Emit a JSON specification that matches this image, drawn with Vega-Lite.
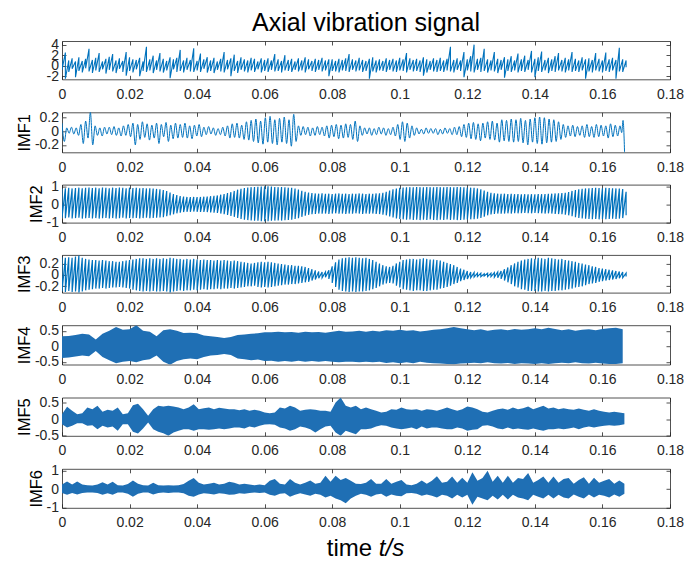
{
"$schema":"https://vega.github.io/schema/vega-lite/v6.json",
"background":"white",
"padding":{"left":16,"top":10,"right":20,"bottom":4},
"config":{
"font":"Liberation Sans",
"locale":{"number":{"decimal":".","thousands":",","grouping":[3],"currency":["$",""],"minus":"-"}},
"view":{"stroke":null},
"axis":{"domainColor":"#262626","domainWidth":0.8,"tickColor":"#262626","tickWidth":0.8,"tickSize":-4,"labelColor":"#262626","labelFont":"Liberation Sans","labelFontSize":14,"labelOverlap":false,"labelFlush":false,"labelBound":false,"grid":false,"titleFont":"Liberation Sans","titleFontWeight":"normal","titleColor":"#000","titleFontSize":16.5,"titlePadding":2}
},
"datasets":{
"s0":[{"t":0,"h":1.2,"l":-0.8},{"t":0.001,"h":2.5,"l":-2.5},{"t":0.002,"h":1,"l":-1.2},{"t":0.003,"h":1.4,"l":-0.6},{"t":0.004,"h":0.8,"l":-2.2},{"t":0.005,"h":1.6,"l":-1},{"t":0.006,"h":0.9,"l":-1.3},{"t":0.007,"h":1.3,"l":-0.5},{"t":0.008,"h":3.2,"l":-1.1},{"t":0.009,"h":1.1,"l":-1.4},{"t":0.01,"h":1.5,"l":-0.9},{"t":0.011,"h":2.4,"l":-1.2},{"t":0.012,"h":0.8,"l":-0.7},{"t":0.013,"h":1.3,"l":-1.5},{"t":0.014,"h":1.7,"l":-0.8},{"t":0.015,"h":2.2,"l":-1.1},{"t":0.016,"h":1,"l":-1.4},{"t":0.017,"h":1.4,"l":-0.6},{"t":0.018,"h":0.9,"l":-1.2},{"t":0.019,"h":2.6,"l":-1.9},{"t":0.02,"h":1.6,"l":-1},{"t":0.021,"h":1.2,"l":-1.3},{"t":0.022,"h":1.1,"l":-0.7},{"t":0.023,"h":1.5,"l":-2},{"t":0.024,"h":0.8,"l":-1},{"t":0.025,"h":3.6,"l":-1.2},{"t":0.026,"h":1.2,"l":-0.9},{"t":0.027,"h":1.9,"l":-1.4},{"t":0.028,"h":1,"l":-0.8},{"t":0.029,"h":2.4,"l":-1.1},{"t":0.03,"h":1.3,"l":-1.3},{"t":0.031,"h":0.9,"l":-0.9},{"t":0.032,"h":1.6,"l":-2.4},{"t":0.033,"h":1.2,"l":-0.7},{"t":0.034,"h":1.5,"l":-1.2},{"t":0.035,"h":3,"l":-1},{"t":0.036,"h":1,"l":-1.3},{"t":0.037,"h":1.5,"l":-0.8},{"t":0.038,"h":1.1,"l":-1.1},{"t":0.039,"h":3.3,"l":-1.2},{"t":0.04,"h":0.9,"l":-0.9},{"t":0.041,"h":2.3,"l":-1.2},{"t":0.042,"h":1.2,"l":-0.6},{"t":0.043,"h":1.6,"l":-1.3},{"t":0.044,"h":1,"l":-1},{"t":0.045,"h":1.5,"l":-1.4},{"t":0.046,"h":0.8,"l":-0.8},{"t":0.047,"h":1.3,"l":-1.1},{"t":0.048,"h":2.6,"l":-1.3},{"t":0.049,"h":1.1,"l":-0.7},{"t":0.05,"h":1.4,"l":-2},{"t":0.051,"h":2.1,"l":-1},{"t":0.052,"h":0.9,"l":-1.4},{"t":0.053,"h":1.6,"l":-0.8},{"t":0.054,"h":1.2,"l":-1.1},{"t":0.055,"h":1,"l":-1.3},{"t":0.056,"h":1.5,"l":-0.9},{"t":0.057,"h":1.3,"l":-1.2},{"t":0.058,"h":0.8,"l":-0.7},{"t":0.059,"h":1.4,"l":-1.3},{"t":0.06,"h":1.1,"l":-1},{"t":0.061,"h":1.4,"l":-1.2},{"t":0.062,"h":1,"l":-0.8},{"t":0.063,"h":2.2,"l":-1.1},{"t":0.064,"h":1.2,"l":-1},{"t":0.065,"h":0.9,"l":-1.3},{"t":0.066,"h":2,"l":-0.9},{"t":0.067,"h":1.1,"l":-1},{"t":0.068,"h":1.3,"l":-1.2},{"t":0.069,"h":0.8,"l":-0.8},{"t":0.07,"h":1.4,"l":-1.1},{"t":0.071,"h":1,"l":-0.9},{"t":0.072,"h":1.6,"l":-1.3},{"t":0.073,"h":1.2,"l":-0.7},{"t":0.074,"h":0.9,"l":-1},{"t":0.075,"h":1.3,"l":-1.2},{"t":0.076,"h":1.1,"l":-0.8},{"t":0.077,"h":1.5,"l":-1.1},{"t":0.078,"h":1,"l":-0.9},{"t":0.079,"h":1.2,"l":-2},{"t":0.08,"h":1.2,"l":-1},{"t":0.081,"h":0.9,"l":-1.1},{"t":0.082,"h":1.3,"l":-1.3},{"t":0.083,"h":1.1,"l":-0.9},{"t":0.084,"h":1.4,"l":-1},{"t":0.085,"h":2.2,"l":-1.2},{"t":0.086,"h":1.2,"l":-0.8},{"t":0.087,"h":1,"l":-1.1},{"t":0.088,"h":1.5,"l":-0.9},{"t":0.089,"h":1.1,"l":-1.2},{"t":0.09,"h":0.9,"l":-1},{"t":0.091,"h":1.3,"l":-2.5},{"t":0.092,"h":1.6,"l":-1.1},{"t":0.093,"h":1,"l":-1.3},{"t":0.094,"h":1.2,"l":-0.9},{"t":0.095,"h":0.9,"l":-1},{"t":0.096,"h":1.4,"l":-1.2},{"t":0.097,"h":1.1,"l":-0.8},{"t":0.098,"h":1.3,"l":-1.1},{"t":0.099,"h":1,"l":-1.2},{"t":0.1,"h":1.5,"l":-0.9},{"t":0.101,"h":1.2,"l":-1},{"t":0.102,"h":2.4,"l":-1.3},{"t":0.103,"h":1.4,"l":-0.8},{"t":0.104,"h":1.1,"l":-1.1},{"t":0.105,"h":1.3,"l":-1},{"t":0.106,"h":1,"l":-1.2},{"t":0.107,"h":1.6,"l":-1.9},{"t":0.108,"h":1.2,"l":-1.3},{"t":0.109,"h":0.9,"l":-0.8},{"t":0.11,"h":1.4,"l":-1.1},{"t":0.111,"h":1.1,"l":-1.2},{"t":0.112,"h":1.5,"l":-1},{"t":0.113,"h":1,"l":-1.2},{"t":0.114,"h":1.3,"l":-0.9},{"t":0.115,"h":3.6,"l":-1.1},{"t":0.116,"h":1.1,"l":-1.3},{"t":0.117,"h":1.4,"l":-0.8},{"t":0.118,"h":1,"l":-1},{"t":0.119,"h":2.6,"l":-2.2},{"t":0.12,"h":1.2,"l":-0.9},{"t":0.121,"h":1.8,"l":-1.1},{"t":0.122,"h":4,"l":-1.3},{"t":0.123,"h":1.3,"l":-0.8},{"t":0.124,"h":1.5,"l":-1.2},{"t":0.125,"h":3.2,"l":-1},{"t":0.126,"h":1.2,"l":-1.3},{"t":0.127,"h":1,"l":-0.9},{"t":0.128,"h":2.6,"l":-1.1},{"t":0.129,"h":1.3,"l":-1.4},{"t":0.13,"h":1.1,"l":-0.8},{"t":0.131,"h":1.6,"l":-2.3},{"t":0.132,"h":1.2,"l":-1},{"t":0.133,"h":1.8,"l":-1.2},{"t":0.134,"h":1,"l":-0.9},{"t":0.135,"h":2.3,"l":-1.3},{"t":0.136,"h":1.2,"l":-1},{"t":0.137,"h":1.9,"l":-1.2},{"t":0.138,"h":1.1,"l":-0.8},{"t":0.139,"h":2.8,"l":-1.3},{"t":0.14,"h":1.3,"l":-2.2},{"t":0.141,"h":1.6,"l":-1},{"t":0.142,"h":2.7,"l":-1.2},{"t":0.143,"h":1.1,"l":-0.9},{"t":0.144,"h":1.5,"l":-1.4},{"t":0.145,"h":1.2,"l":-1},{"t":0.146,"h":1.8,"l":-1.2},{"t":0.147,"h":2.4,"l":-0.9},{"t":0.148,"h":1.1,"l":-1.1},{"t":0.149,"h":1.5,"l":-1.3},{"t":0.15,"h":1.2,"l":-0.9},{"t":0.151,"h":2.6,"l":-1.2},{"t":0.152,"h":1.3,"l":-1},{"t":0.153,"h":1,"l":-1.2},{"t":0.154,"h":1.6,"l":-0.9},{"t":0.155,"h":1.2,"l":-2.5},{"t":0.156,"h":1.4,"l":-1.1},{"t":0.157,"h":1.1,"l":-1.3},{"t":0.158,"h":2.4,"l":-0.9},{"t":0.159,"h":1.3,"l":-1.1},{"t":0.16,"h":1,"l":-1.3},{"t":0.161,"h":2.5,"l":-1},{"t":0.162,"h":1.2,"l":-1.2},{"t":0.163,"h":1.5,"l":-0.9},{"t":0.164,"h":1.1,"l":-2.5},{"t":0.165,"h":3.4,"l":-1.1},{"t":0.166,"h":1.2,"l":-1.2},{"t":0.167,"h":1,"l":-0.3}],
"s1":[{"t":0,"v":0.12},{"t":0.0007,"v":-0.15},{"t":0.0014,"v":0.05},{"t":0.0021,"v":-0.03},{"t":0.0028,"v":0.06},{"t":0.0035,"v":-0.04},{"t":0.0042,"v":0.05},{"t":0.0049,"v":-0.06},{"t":0.0056,"v":0.1},{"t":0.0063,"v":-0.18},{"t":0.007,"v":0.15},{"t":0.0077,"v":-0.1},{"t":0.0084,"v":0.28},{"t":0.0091,"v":-0.2},{"t":0.0098,"v":0.08},{"t":0.0105,"v":-0.06},{"t":0.0112,"v":0.05},{"t":0.0119,"v":-0.07},{"t":0.0126,"v":0.06},{"t":0.0133,"v":-0.04},{"t":0.014,"v":0.06},{"t":0.0147,"v":-0.05},{"t":0.0154,"v":0.07},{"t":0.0161,"v":-0.06},{"t":0.0168,"v":0.05},{"t":0.0175,"v":-0.07},{"t":0.0182,"v":0.08},{"t":0.0189,"v":-0.06},{"t":0.0196,"v":0.1},{"t":0.0203,"v":-0.08},{"t":0.021,"v":0.12},{"t":0.0217,"v":-0.2},{"t":0.0224,"v":0.1},{"t":0.0231,"v":-0.12},{"t":0.0238,"v":0.14},{"t":0.0245,"v":-0.09},{"t":0.0252,"v":0.11},{"t":0.0259,"v":-0.13},{"t":0.0266,"v":0.09},{"t":0.0273,"v":-0.1},{"t":0.028,"v":0.12},{"t":0.0287,"v":-0.18},{"t":0.0294,"v":0.1},{"t":0.0301,"v":-0.08},{"t":0.0308,"v":0.13},{"t":0.0315,"v":-0.15},{"t":0.0322,"v":0.09},{"t":0.0329,"v":-0.11},{"t":0.0336,"v":0.12},{"t":0.0343,"v":-0.1},{"t":0.035,"v":0.1},{"t":0.0357,"v":-0.09},{"t":0.0364,"v":0.12},{"t":0.0371,"v":-0.1},{"t":0.0378,"v":0.08},{"t":0.0385,"v":-0.11},{"t":0.0392,"v":0.09},{"t":0.0399,"v":-0.07},{"t":0.0406,"v":0.1},{"t":0.0413,"v":-0.08},{"t":0.042,"v":0.06},{"t":0.0427,"v":-0.05},{"t":0.0434,"v":0.07},{"t":0.0441,"v":-0.04},{"t":0.0448,"v":0.05},{"t":0.0455,"v":-0.06},{"t":0.0462,"v":0.04},{"t":0.0469,"v":-0.05},{"t":0.0476,"v":0.06},{"t":0.0483,"v":-0.07},{"t":0.049,"v":0.08},{"t":0.0497,"v":-0.1},{"t":0.0504,"v":0.11},{"t":0.0511,"v":-0.09},{"t":0.0518,"v":0.12},{"t":0.0525,"v":-0.1},{"t":0.0532,"v":0.09},{"t":0.0539,"v":-0.12},{"t":0.0546,"v":0.14},{"t":0.0553,"v":-0.13},{"t":0.056,"v":0.16},{"t":0.0567,"v":-0.15},{"t":0.0574,"v":0.18},{"t":0.0581,"v":-0.17},{"t":0.0588,"v":0.15},{"t":0.0595,"v":-0.19},{"t":0.0602,"v":0.2},{"t":0.0609,"v":-0.16},{"t":0.0616,"v":0.22},{"t":0.0623,"v":-0.18},{"t":0.063,"v":0.17},{"t":0.0637,"v":-0.2},{"t":0.0644,"v":0.19},{"t":0.0651,"v":-0.16},{"t":0.0658,"v":0.21},{"t":0.0665,"v":-0.18},{"t":0.0672,"v":0.17},{"t":0.0679,"v":-0.22},{"t":0.0686,"v":0.25},{"t":0.0693,"v":-0.15},{"t":0.07,"v":0.08},{"t":0.0707,"v":-0.06},{"t":0.0714,"v":0.07},{"t":0.0721,"v":-0.05},{"t":0.0728,"v":0.06},{"t":0.0735,"v":-0.07},{"t":0.0742,"v":0.05},{"t":0.0749,"v":-0.06},{"t":0.0756,"v":0.07},{"t":0.0763,"v":-0.05},{"t":0.077,"v":0.06},{"t":0.0777,"v":-0.07},{"t":0.0784,"v":0.08},{"t":0.0791,"v":-0.1},{"t":0.0798,"v":0.09},{"t":0.0805,"v":-0.08},{"t":0.0812,"v":0.1},{"t":0.0819,"v":-0.11},{"t":0.0826,"v":0.09},{"t":0.0833,"v":-0.1},{"t":0.084,"v":0.11},{"t":0.0847,"v":-0.09},{"t":0.0854,"v":0.1},{"t":0.0861,"v":-0.12},{"t":0.0868,"v":0.15},{"t":0.0875,"v":-0.15},{"t":0.0882,"v":0.08},{"t":0.0889,"v":-0.06},{"t":0.0896,"v":0.05},{"t":0.0903,"v":-0.04},{"t":0.091,"v":0.05},{"t":0.0917,"v":-0.06},{"t":0.0924,"v":0.04},{"t":0.0931,"v":-0.05},{"t":0.0938,"v":0.06},{"t":0.0945,"v":-0.04},{"t":0.0952,"v":0.05},{"t":0.0959,"v":-0.06},{"t":0.0966,"v":0.04},{"t":0.0973,"v":-0.05},{"t":0.098,"v":0.06},{"t":0.0987,"v":-0.07},{"t":0.0994,"v":0.1},{"t":0.1001,"v":-0.12},{"t":0.1008,"v":0.14},{"t":0.1015,"v":-0.15},{"t":0.1022,"v":0.12},{"t":0.1029,"v":-0.1},{"t":0.1036,"v":0.08},{"t":0.1043,"v":-0.06},{"t":0.105,"v":0.05},{"t":0.1057,"v":-0.04},{"t":0.1064,"v":0.03},{"t":0.1071,"v":-0.04},{"t":0.1078,"v":0.05},{"t":0.1085,"v":-0.03},{"t":0.1092,"v":0.04},{"t":0.1099,"v":-0.03},{"t":0.1106,"v":0.04},{"t":0.1113,"v":-0.05},{"t":0.112,"v":0.03},{"t":0.1127,"v":-0.04},{"t":0.1134,"v":0.05},{"t":0.1141,"v":-0.03},{"t":0.1148,"v":0.04},{"t":0.1155,"v":-0.05},{"t":0.1162,"v":0.06},{"t":0.1169,"v":-0.05},{"t":0.1176,"v":0.07},{"t":0.1183,"v":-0.08},{"t":0.119,"v":0.1},{"t":0.1197,"v":-0.09},{"t":0.1204,"v":0.12},{"t":0.1211,"v":-0.11},{"t":0.1218,"v":0.13},{"t":0.1225,"v":-0.12},{"t":0.1232,"v":0.11},{"t":0.1239,"v":-0.14},{"t":0.1246,"v":0.12},{"t":0.1253,"v":-0.1},{"t":0.126,"v":0.14},{"t":0.1267,"v":-0.12},{"t":0.1274,"v":0.15},{"t":0.1281,"v":-0.13},{"t":0.1288,"v":0.12},{"t":0.1295,"v":-0.16},{"t":0.1302,"v":0.17},{"t":0.1309,"v":-0.14},{"t":0.1316,"v":0.16},{"t":0.1323,"v":-0.15},{"t":0.133,"v":0.18},{"t":0.1337,"v":-0.16},{"t":0.1344,"v":0.17},{"t":0.1351,"v":-0.15},{"t":0.1358,"v":0.19},{"t":0.1365,"v":-0.17},{"t":0.1372,"v":0.16},{"t":0.1379,"v":-0.2},{"t":0.1386,"v":0.18},{"t":0.1393,"v":-0.16},{"t":0.14,"v":0.2},{"t":0.1407,"v":-0.18},{"t":0.1414,"v":0.21},{"t":0.1421,"v":-0.19},{"t":0.1428,"v":0.2},{"t":0.1435,"v":-0.17},{"t":0.1442,"v":0.18},{"t":0.1449,"v":-0.16},{"t":0.1456,"v":0.17},{"t":0.1463,"v":-0.15},{"t":0.147,"v":0.14},{"t":0.1477,"v":-0.12},{"t":0.1484,"v":0.1},{"t":0.1491,"v":-0.09},{"t":0.1498,"v":0.08},{"t":0.1505,"v":-0.07},{"t":0.1512,"v":0.09},{"t":0.1519,"v":-0.08},{"t":0.1526,"v":0.07},{"t":0.1533,"v":-0.06},{"t":0.154,"v":0.08},{"t":0.1547,"v":-0.09},{"t":0.1554,"v":0.1},{"t":0.1561,"v":-0.08},{"t":0.1568,"v":0.07},{"t":0.1575,"v":-0.09},{"t":0.1582,"v":0.1},{"t":0.1589,"v":-0.08},{"t":0.1596,"v":0.09},{"t":0.1603,"v":-0.07},{"t":0.161,"v":0.08},{"t":0.1617,"v":-0.1},{"t":0.1624,"v":0.11},{"t":0.1631,"v":-0.08},{"t":0.1638,"v":0.09},{"t":0.1645,"v":-0.07},{"t":0.1652,"v":0.08},{"t":0.1657,"v":-0.02},{"t":0.1661,"v":0.16},{"t":0.1666,"v":-0.4}],
"s2":[{"t":0,"h":0.88,"l":-0.74},{"t":0.001,"h":0.9,"l":-0.76},{"t":0.002,"h":0.92,"l":-0.72},{"t":0.003,"h":0.89,"l":-0.77},{"t":0.004,"h":0.91,"l":-0.75},{"t":0.005,"h":0.93,"l":-0.73},{"t":0.006,"h":0.9,"l":-0.78},{"t":0.007,"h":0.92,"l":-0.76},{"t":0.008,"h":0.94,"l":-0.74},{"t":0.009,"h":0.91,"l":-0.77},{"t":0.01,"h":0.93,"l":-0.75},{"t":0.011,"h":0.9,"l":-0.78},{"t":0.012,"h":0.94,"l":-0.76},{"t":0.013,"h":0.92,"l":-0.74},{"t":0.014,"h":0.9,"l":-0.77},{"t":0.015,"h":0.93,"l":-0.75},{"t":0.016,"h":0.91,"l":-0.78},{"t":0.017,"h":0.94,"l":-0.76},{"t":0.018,"h":0.92,"l":-0.73},{"t":0.019,"h":0.9,"l":-0.77},{"t":0.02,"h":0.93,"l":-0.75},{"t":0.021,"h":0.91,"l":-0.76},{"t":0.022,"h":0.92,"l":-0.74},{"t":0.023,"h":0.9,"l":-0.77},{"t":0.024,"h":0.91,"l":-0.75},{"t":0.025,"h":0.89,"l":-0.73},{"t":0.026,"h":0.9,"l":-0.76},{"t":0.027,"h":0.88,"l":-0.74},{"t":0.028,"h":0.86,"l":-0.73},{"t":0.029,"h":0.84,"l":-0.72},{"t":0.03,"h":0.8,"l":-0.7},{"t":0.031,"h":0.74,"l":-0.65},{"t":0.032,"h":0.66,"l":-0.6},{"t":0.033,"h":0.58,"l":-0.54},{"t":0.034,"h":0.52,"l":-0.49},{"t":0.035,"h":0.47,"l":-0.45},{"t":0.036,"h":0.44,"l":-0.42},{"t":0.037,"h":0.42,"l":-0.4},{"t":0.038,"h":0.41,"l":-0.4},{"t":0.039,"h":0.42,"l":-0.39},{"t":0.04,"h":0.41,"l":-0.4},{"t":0.041,"h":0.42,"l":-0.41},{"t":0.042,"h":0.43,"l":-0.41},{"t":0.043,"h":0.44,"l":-0.42},{"t":0.044,"h":0.46,"l":-0.44},{"t":0.045,"h":0.48,"l":-0.45},{"t":0.046,"h":0.5,"l":-0.47},{"t":0.047,"h":0.54,"l":-0.5},{"t":0.048,"h":0.58,"l":-0.54},{"t":0.049,"h":0.63,"l":-0.58},{"t":0.05,"h":0.68,"l":-0.63},{"t":0.051,"h":0.75,"l":-0.68},{"t":0.052,"h":0.82,"l":-0.74},{"t":0.053,"h":0.87,"l":-0.8},{"t":0.054,"h":0.91,"l":-0.84},{"t":0.055,"h":0.94,"l":-0.86},{"t":0.056,"h":0.96,"l":-0.88},{"t":0.057,"h":0.97,"l":-0.9},{"t":0.058,"h":0.98,"l":-0.9},{"t":0.059,"h":0.99,"l":-0.92},{"t":0.06,"h":1,"l":-0.93},{"t":0.061,"h":1.01,"l":-0.92},{"t":0.062,"h":0.99,"l":-0.9},{"t":0.063,"h":0.97,"l":-0.89},{"t":0.064,"h":0.96,"l":-0.88},{"t":0.065,"h":0.97,"l":-0.89},{"t":0.066,"h":0.95,"l":-0.87},{"t":0.067,"h":0.93,"l":-0.85},{"t":0.068,"h":0.92,"l":-0.84},{"t":0.069,"h":0.88,"l":-0.8},{"t":0.07,"h":0.83,"l":-0.76},{"t":0.071,"h":0.76,"l":-0.68},{"t":0.072,"h":0.7,"l":-0.62},{"t":0.073,"h":0.66,"l":-0.57},{"t":0.074,"h":0.63,"l":-0.54},{"t":0.075,"h":0.61,"l":-0.52},{"t":0.076,"h":0.6,"l":-0.5},{"t":0.077,"h":0.62,"l":-0.51},{"t":0.078,"h":0.59,"l":-0.5},{"t":0.079,"h":0.6,"l":-0.52},{"t":0.08,"h":0.58,"l":-0.5},{"t":0.081,"h":0.6,"l":-0.49},{"t":0.082,"h":0.61,"l":-0.51},{"t":0.083,"h":0.59,"l":-0.5},{"t":0.084,"h":0.6,"l":-0.52},{"t":0.085,"h":0.58,"l":-0.5},{"t":0.086,"h":0.6,"l":-0.51},{"t":0.087,"h":0.59,"l":-0.49},{"t":0.088,"h":0.61,"l":-0.5},{"t":0.089,"h":0.6,"l":-0.52},{"t":0.09,"h":0.58,"l":-0.5},{"t":0.091,"h":0.6,"l":-0.51},{"t":0.092,"h":0.59,"l":-0.5},{"t":0.093,"h":0.61,"l":-0.52},{"t":0.094,"h":0.62,"l":-0.53},{"t":0.095,"h":0.65,"l":-0.56},{"t":0.096,"h":0.7,"l":-0.6},{"t":0.097,"h":0.77,"l":-0.66},{"t":0.098,"h":0.84,"l":-0.72},{"t":0.099,"h":0.88,"l":-0.77},{"t":0.1,"h":0.92,"l":-0.8},{"t":0.101,"h":0.94,"l":-0.82},{"t":0.102,"h":0.95,"l":-0.84},{"t":0.103,"h":0.96,"l":-0.83},{"t":0.104,"h":0.95,"l":-0.85},{"t":0.105,"h":0.97,"l":-0.84},{"t":0.106,"h":0.96,"l":-0.86},{"t":0.107,"h":0.95,"l":-0.84},{"t":0.108,"h":0.97,"l":-0.85},{"t":0.109,"h":0.96,"l":-0.83},{"t":0.11,"h":0.95,"l":-0.85},{"t":0.111,"h":0.97,"l":-0.86},{"t":0.112,"h":0.96,"l":-0.84},{"t":0.113,"h":0.95,"l":-0.85},{"t":0.114,"h":0.97,"l":-0.83},{"t":0.115,"h":0.96,"l":-0.85},{"t":0.116,"h":0.95,"l":-0.84},{"t":0.117,"h":0.97,"l":-0.86},{"t":0.118,"h":0.96,"l":-0.85},{"t":0.119,"h":0.95,"l":-0.84},{"t":0.12,"h":0.94,"l":-0.83},{"t":0.121,"h":0.93,"l":-0.82},{"t":0.122,"h":0.92,"l":-0.81},{"t":0.123,"h":0.89,"l":-0.79},{"t":0.124,"h":0.84,"l":-0.74},{"t":0.125,"h":0.77,"l":-0.67},{"t":0.126,"h":0.7,"l":-0.6},{"t":0.127,"h":0.65,"l":-0.55},{"t":0.128,"h":0.62,"l":-0.52},{"t":0.129,"h":0.6,"l":-0.5},{"t":0.13,"h":0.59,"l":-0.51},{"t":0.131,"h":0.6,"l":-0.5},{"t":0.132,"h":0.58,"l":-0.49},{"t":0.133,"h":0.59,"l":-0.5},{"t":0.134,"h":0.57,"l":-0.48},{"t":0.135,"h":0.58,"l":-0.49},{"t":0.136,"h":0.56,"l":-0.48},{"t":0.137,"h":0.57,"l":-0.47},{"t":0.138,"h":0.56,"l":-0.48},{"t":0.139,"h":0.57,"l":-0.49},{"t":0.14,"h":0.56,"l":-0.47},{"t":0.141,"h":0.58,"l":-0.48},{"t":0.142,"h":0.57,"l":-0.49},{"t":0.143,"h":0.58,"l":-0.5},{"t":0.144,"h":0.59,"l":-0.49},{"t":0.145,"h":0.6,"l":-0.5},{"t":0.146,"h":0.61,"l":-0.52},{"t":0.147,"h":0.62,"l":-0.53},{"t":0.148,"h":0.63,"l":-0.54},{"t":0.149,"h":0.65,"l":-0.56},{"t":0.15,"h":0.69,"l":-0.6},{"t":0.151,"h":0.75,"l":-0.65},{"t":0.152,"h":0.8,"l":-0.7},{"t":0.153,"h":0.84,"l":-0.74},{"t":0.154,"h":0.87,"l":-0.77},{"t":0.155,"h":0.89,"l":-0.79},{"t":0.156,"h":0.9,"l":-0.8},{"t":0.157,"h":0.91,"l":-0.81},{"t":0.158,"h":0.92,"l":-0.8},{"t":0.159,"h":0.91,"l":-0.82},{"t":0.16,"h":0.9,"l":-0.8},{"t":0.161,"h":0.92,"l":-0.81},{"t":0.162,"h":0.91,"l":-0.8},{"t":0.163,"h":0.9,"l":-0.79},{"t":0.164,"h":0.89,"l":-0.8},{"t":0.165,"h":0.88,"l":-0.78},{"t":0.166,"h":0.85,"l":-0.75},{"t":0.167,"h":0.7,"l":-0.6}],
"s3":[{"t":0,"h":0.31,"l":-0.29},{"t":0.001,"h":0.3,"l":-0.3},{"t":0.002,"h":0.31,"l":-0.28},{"t":0.003,"h":0.3,"l":-0.3},{"t":0.004,"h":0.32,"l":-0.29},{"t":0.005,"h":0.34,"l":-0.33},{"t":0.006,"h":0.3,"l":-0.29},{"t":0.007,"h":0.28,"l":-0.27},{"t":0.008,"h":0.27,"l":-0.26},{"t":0.009,"h":0.26,"l":-0.25},{"t":0.01,"h":0.26,"l":-0.24},{"t":0.011,"h":0.25,"l":-0.24},{"t":0.012,"h":0.26,"l":-0.23},{"t":0.013,"h":0.25,"l":-0.24},{"t":0.014,"h":0.24,"l":-0.23},{"t":0.015,"h":0.24,"l":-0.22},{"t":0.016,"h":0.23,"l":-0.22},{"t":0.017,"h":0.23,"l":-0.21},{"t":0.018,"h":0.24,"l":-0.22},{"t":0.019,"h":0.25,"l":-0.23},{"t":0.02,"h":0.26,"l":-0.24},{"t":0.021,"h":0.27,"l":-0.26},{"t":0.022,"h":0.28,"l":-0.27},{"t":0.023,"h":0.29,"l":-0.28},{"t":0.024,"h":0.29,"l":-0.29},{"t":0.025,"h":0.28,"l":-0.28},{"t":0.026,"h":0.29,"l":-0.29},{"t":0.027,"h":0.28,"l":-0.28},{"t":0.028,"h":0.29,"l":-0.29},{"t":0.029,"h":0.28,"l":-0.29},{"t":0.03,"h":0.29,"l":-0.28},{"t":0.031,"h":0.28,"l":-0.29},{"t":0.032,"h":0.3,"l":-0.33},{"t":0.033,"h":0.29,"l":-0.29},{"t":0.034,"h":0.28,"l":-0.28},{"t":0.035,"h":0.28,"l":-0.27},{"t":0.036,"h":0.27,"l":-0.28},{"t":0.037,"h":0.28,"l":-0.27},{"t":0.038,"h":0.27,"l":-0.27},{"t":0.039,"h":0.28,"l":-0.26},{"t":0.04,"h":0.27,"l":-0.27},{"t":0.041,"h":0.26,"l":-0.26},{"t":0.042,"h":0.27,"l":-0.25},{"t":0.043,"h":0.26,"l":-0.26},{"t":0.044,"h":0.26,"l":-0.25},{"t":0.045,"h":0.25,"l":-0.25},{"t":0.046,"h":0.26,"l":-0.24},{"t":0.047,"h":0.25,"l":-0.25},{"t":0.048,"h":0.26,"l":-0.24},{"t":0.049,"h":0.25,"l":-0.24},{"t":0.05,"h":0.24,"l":-0.23},{"t":0.051,"h":0.25,"l":-0.24},{"t":0.052,"h":0.24,"l":-0.23},{"t":0.053,"h":0.23,"l":-0.22},{"t":0.054,"h":0.22,"l":-0.21},{"t":0.055,"h":0.21,"l":-0.2},{"t":0.056,"h":0.2,"l":-0.2},{"t":0.057,"h":0.21,"l":-0.19},{"t":0.058,"h":0.22,"l":-0.21},{"t":0.059,"h":0.23,"l":-0.22},{"t":0.06,"h":0.22,"l":-0.21},{"t":0.061,"h":0.23,"l":-0.22},{"t":0.062,"h":0.22,"l":-0.21},{"t":0.063,"h":0.21,"l":-0.2},{"t":0.064,"h":0.2,"l":-0.19},{"t":0.065,"h":0.19,"l":-0.18},{"t":0.066,"h":0.18,"l":-0.17},{"t":0.067,"h":0.17,"l":-0.17},{"t":0.068,"h":0.17,"l":-0.16},{"t":0.069,"h":0.16,"l":-0.16},{"t":0.07,"h":0.16,"l":-0.15},{"t":0.071,"h":0.15,"l":-0.14},{"t":0.072,"h":0.14,"l":-0.13},{"t":0.073,"h":0.12,"l":-0.12},{"t":0.074,"h":0.1,"l":-0.1},{"t":0.075,"h":0.08,"l":-0.08},{"t":0.076,"h":0.06,"l":-0.06},{"t":0.077,"h":0.05,"l":-0.05},{"t":0.078,"h":0.05,"l":-0.04},{"t":0.079,"h":0.08,"l":-0.07},{"t":0.08,"h":0.15,"l":-0.14},{"t":0.081,"h":0.22,"l":-0.21},{"t":0.082,"h":0.27,"l":-0.26},{"t":0.083,"h":0.29,"l":-0.28},{"t":0.084,"h":0.3,"l":-0.29},{"t":0.085,"h":0.31,"l":-0.3},{"t":0.086,"h":0.3,"l":-0.29},{"t":0.087,"h":0.31,"l":-0.3},{"t":0.088,"h":0.3,"l":-0.29},{"t":0.089,"h":0.29,"l":-0.29},{"t":0.09,"h":0.3,"l":-0.28},{"t":0.091,"h":0.28,"l":-0.27},{"t":0.092,"h":0.26,"l":-0.25},{"t":0.093,"h":0.23,"l":-0.23},{"t":0.094,"h":0.2,"l":-0.2},{"t":0.095,"h":0.17,"l":-0.17},{"t":0.096,"h":0.15,"l":-0.15},{"t":0.097,"h":0.14,"l":-0.14},{"t":0.098,"h":0.16,"l":-0.15},{"t":0.099,"h":0.2,"l":-0.19},{"t":0.1,"h":0.23,"l":-0.22},{"t":0.101,"h":0.26,"l":-0.25},{"t":0.102,"h":0.27,"l":-0.26},{"t":0.103,"h":0.28,"l":-0.27},{"t":0.104,"h":0.28,"l":-0.28},{"t":0.105,"h":0.27,"l":-0.27},{"t":0.106,"h":0.28,"l":-0.27},{"t":0.107,"h":0.29,"l":-0.28},{"t":0.108,"h":0.28,"l":-0.28},{"t":0.109,"h":0.27,"l":-0.27},{"t":0.11,"h":0.27,"l":-0.26},{"t":0.111,"h":0.26,"l":-0.26},{"t":0.112,"h":0.25,"l":-0.24},{"t":0.113,"h":0.23,"l":-0.23},{"t":0.114,"h":0.21,"l":-0.21},{"t":0.115,"h":0.19,"l":-0.19},{"t":0.116,"h":0.17,"l":-0.16},{"t":0.117,"h":0.14,"l":-0.14},{"t":0.118,"h":0.11,"l":-0.11},{"t":0.119,"h":0.09,"l":-0.09},{"t":0.12,"h":0.07,"l":-0.07},{"t":0.121,"h":0.05,"l":-0.05},{"t":0.122,"h":0.04,"l":-0.04},{"t":0.123,"h":0.03,"l":-0.03},{"t":0.124,"h":0.03,"l":-0.03},{"t":0.125,"h":0.02,"l":-0.02},{"t":0.126,"h":0.03,"l":-0.03},{"t":0.127,"h":0.03,"l":-0.03},{"t":0.128,"h":0.04,"l":-0.04},{"t":0.129,"h":0.05,"l":-0.05},{"t":0.13,"h":0.07,"l":-0.07},{"t":0.131,"h":0.1,"l":-0.1},{"t":0.132,"h":0.13,"l":-0.13},{"t":0.133,"h":0.17,"l":-0.16},{"t":0.134,"h":0.2,"l":-0.2},{"t":0.135,"h":0.23,"l":-0.22},{"t":0.136,"h":0.25,"l":-0.25},{"t":0.137,"h":0.27,"l":-0.26},{"t":0.138,"h":0.28,"l":-0.28},{"t":0.139,"h":0.29,"l":-0.28},{"t":0.14,"h":0.28,"l":-0.28},{"t":0.141,"h":0.3,"l":-0.29},{"t":0.142,"h":0.29,"l":-0.29},{"t":0.143,"h":0.28,"l":-0.28},{"t":0.144,"h":0.3,"l":-0.29},{"t":0.145,"h":0.29,"l":-0.28},{"t":0.146,"h":0.28,"l":-0.28},{"t":0.147,"h":0.27,"l":-0.27},{"t":0.148,"h":0.28,"l":-0.27},{"t":0.149,"h":0.26,"l":-0.26},{"t":0.15,"h":0.25,"l":-0.25},{"t":0.151,"h":0.24,"l":-0.24},{"t":0.152,"h":0.23,"l":-0.22},{"t":0.153,"h":0.21,"l":-0.21},{"t":0.154,"h":0.2,"l":-0.2},{"t":0.155,"h":0.18,"l":-0.18},{"t":0.156,"h":0.17,"l":-0.16},{"t":0.157,"h":0.15,"l":-0.15},{"t":0.158,"h":0.14,"l":-0.14},{"t":0.159,"h":0.12,"l":-0.12},{"t":0.16,"h":0.11,"l":-0.11},{"t":0.161,"h":0.1,"l":-0.1},{"t":0.162,"h":0.09,"l":-0.09},{"t":0.163,"h":0.08,"l":-0.08},{"t":0.164,"h":0.07,"l":-0.07},{"t":0.165,"h":0.06,"l":-0.06},{"t":0.166,"h":0.05,"l":-0.05},{"t":0.167,"h":0.03,"l":-0.03}],
"s4":[{"t":0,"h":0.32,"l":-0.38},{"t":0.002,"h":0.33,"l":-0.36},{"t":0.004,"h":0.36,"l":-0.33},{"t":0.006,"h":0.4,"l":-0.3},{"t":0.008,"h":0.38,"l":-0.32},{"t":0.01,"h":0.22,"l":-0.15},{"t":0.012,"h":0.4,"l":-0.35},{"t":0.014,"h":0.5,"l":-0.45},{"t":0.016,"h":0.62,"l":-0.55},{"t":0.018,"h":0.53,"l":-0.5},{"t":0.02,"h":0.55,"l":-0.48},{"t":0.022,"h":0.68,"l":-0.52},{"t":0.024,"h":0.5,"l":-0.45},{"t":0.026,"h":0.47,"l":-0.42},{"t":0.028,"h":0.32,"l":-0.3},{"t":0.03,"h":0.52,"l":-0.5},{"t":0.032,"h":0.55,"l":-0.6},{"t":0.034,"h":0.5,"l":-0.48},{"t":0.036,"h":0.43,"l":-0.42},{"t":0.038,"h":0.44,"l":-0.4},{"t":0.04,"h":0.42,"l":-0.42},{"t":0.042,"h":0.35,"l":-0.35},{"t":0.044,"h":0.32,"l":-0.3},{"t":0.046,"h":0.3,"l":-0.28},{"t":0.048,"h":0.27,"l":-0.25},{"t":0.05,"h":0.3,"l":-0.28},{"t":0.052,"h":0.36,"l":-0.4},{"t":0.054,"h":0.38,"l":-0.42},{"t":0.056,"h":0.4,"l":-0.45},{"t":0.058,"h":0.42,"l":-0.43},{"t":0.06,"h":0.45,"l":-0.48},{"t":0.062,"h":0.45,"l":-0.47},{"t":0.064,"h":0.47,"l":-0.5},{"t":0.066,"h":0.45,"l":-0.48},{"t":0.068,"h":0.46,"l":-0.5},{"t":0.07,"h":0.44,"l":-0.47},{"t":0.072,"h":0.47,"l":-0.5},{"t":0.074,"h":0.45,"l":-0.48},{"t":0.076,"h":0.46,"l":-0.5},{"t":0.078,"h":0.44,"l":-0.48},{"t":0.08,"h":0.47,"l":-0.5},{"t":0.082,"h":0.5,"l":-0.52},{"t":0.084,"h":0.47,"l":-0.5},{"t":0.086,"h":0.48,"l":-0.5},{"t":0.088,"h":0.5,"l":-0.52},{"t":0.09,"h":0.47,"l":-0.5},{"t":0.092,"h":0.5,"l":-0.52},{"t":0.094,"h":0.48,"l":-0.5},{"t":0.096,"h":0.52,"l":-0.54},{"t":0.098,"h":0.5,"l":-0.52},{"t":0.1,"h":0.53,"l":-0.55},{"t":0.102,"h":0.5,"l":-0.52},{"t":0.104,"h":0.52,"l":-0.55},{"t":0.106,"h":0.48,"l":-0.5},{"t":0.108,"h":0.5,"l":-0.53},{"t":0.11,"h":0.53,"l":-0.55},{"t":0.112,"h":0.55,"l":-0.56},{"t":0.114,"h":0.58,"l":-0.57},{"t":0.116,"h":0.62,"l":-0.58},{"t":0.118,"h":0.58,"l":-0.56},{"t":0.12,"h":0.55,"l":-0.55},{"t":0.122,"h":0.52,"l":-0.53},{"t":0.124,"h":0.55,"l":-0.55},{"t":0.126,"h":0.5,"l":-0.52},{"t":0.128,"h":0.53,"l":-0.55},{"t":0.13,"h":0.55,"l":-0.56},{"t":0.132,"h":0.52,"l":-0.54},{"t":0.134,"h":0.56,"l":-0.57},{"t":0.136,"h":0.53,"l":-0.55},{"t":0.138,"h":0.55,"l":-0.56},{"t":0.14,"h":0.58,"l":-0.57},{"t":0.142,"h":0.55,"l":-0.55},{"t":0.144,"h":0.6,"l":-0.57},{"t":0.146,"h":0.56,"l":-0.55},{"t":0.148,"h":0.52,"l":-0.53},{"t":0.15,"h":0.55,"l":-0.55},{"t":0.152,"h":0.5,"l":-0.52},{"t":0.154,"h":0.53,"l":-0.55},{"t":0.156,"h":0.55,"l":-0.56},{"t":0.158,"h":0.52,"l":-0.53},{"t":0.16,"h":0.56,"l":-0.56},{"t":0.162,"h":0.58,"l":-0.57},{"t":0.164,"h":0.6,"l":-0.57},{"t":0.166,"h":0.55,"l":-0.55}],
"s5":[{"t":0,"h":0.15,"l":-0.15},{"t":0.0015,"h":0.37,"l":-0.25},{"t":0.003,"h":0.25,"l":-0.2},{"t":0.0045,"h":0.15,"l":-0.12},{"t":0.006,"h":0.18,"l":-0.12},{"t":0.0075,"h":0.35,"l":-0.2},{"t":0.009,"h":0.3,"l":-0.18},{"t":0.0105,"h":0.4,"l":-0.3},{"t":0.012,"h":0.22,"l":-0.2},{"t":0.0135,"h":0.28,"l":-0.25},{"t":0.015,"h":0.25,"l":-0.22},{"t":0.0165,"h":0.35,"l":-0.35},{"t":0.018,"h":0.15,"l":-0.15},{"t":0.0195,"h":0.18,"l":-0.15},{"t":0.021,"h":0.42,"l":-0.38},{"t":0.0225,"h":0.46,"l":-0.43},{"t":0.024,"h":0.3,"l":-0.28},{"t":0.0255,"h":0.1,"l":-0.1},{"t":0.027,"h":0.3,"l":-0.3},{"t":0.0285,"h":0.4,"l":-0.38},{"t":0.03,"h":0.38,"l":-0.42},{"t":0.0315,"h":0.4,"l":-0.5},{"t":0.033,"h":0.38,"l":-0.4},{"t":0.0345,"h":0.35,"l":-0.35},{"t":0.036,"h":0.3,"l":-0.3},{"t":0.0375,"h":0.35,"l":-0.3},{"t":0.039,"h":0.45,"l":-0.35},{"t":0.0405,"h":0.3,"l":-0.3},{"t":0.042,"h":0.33,"l":-0.3},{"t":0.0435,"h":0.35,"l":-0.32},{"t":0.045,"h":0.3,"l":-0.3},{"t":0.0465,"h":0.34,"l":-0.28},{"t":0.048,"h":0.32,"l":-0.3},{"t":0.0495,"h":0.3,"l":-0.28},{"t":0.051,"h":0.3,"l":-0.25},{"t":0.0525,"h":0.27,"l":-0.25},{"t":0.054,"h":0.3,"l":-0.28},{"t":0.0555,"h":0.25,"l":-0.22},{"t":0.057,"h":0.28,"l":-0.25},{"t":0.0585,"h":0.25,"l":-0.2},{"t":0.06,"h":0.2,"l":-0.16},{"t":0.0615,"h":0.18,"l":-0.15},{"t":0.063,"h":0.2,"l":-0.17},{"t":0.0645,"h":0.35,"l":-0.25},{"t":0.066,"h":0.32,"l":-0.28},{"t":0.0675,"h":0.4,"l":-0.35},{"t":0.069,"h":0.35,"l":-0.3},{"t":0.0705,"h":0.25,"l":-0.22},{"t":0.072,"h":0.28,"l":-0.25},{"t":0.0735,"h":0.3,"l":-0.3},{"t":0.075,"h":0.28,"l":-0.4},{"t":0.0765,"h":0.25,"l":-0.3},{"t":0.078,"h":0.25,"l":-0.22},{"t":0.0795,"h":0.22,"l":-0.2},{"t":0.081,"h":0.5,"l":-0.4},{"t":0.0825,"h":0.65,"l":-0.5},{"t":0.084,"h":0.4,"l":-0.35},{"t":0.0855,"h":0.35,"l":-0.4},{"t":0.087,"h":0.4,"l":-0.45},{"t":0.0885,"h":0.3,"l":-0.3},{"t":0.09,"h":0.35,"l":-0.3},{"t":0.0915,"h":0.3,"l":-0.28},{"t":0.093,"h":0.25,"l":-0.22},{"t":0.0945,"h":0.2,"l":-0.18},{"t":0.096,"h":0.22,"l":-0.2},{"t":0.0975,"h":0.3,"l":-0.25},{"t":0.099,"h":0.28,"l":-0.28},{"t":0.1005,"h":0.35,"l":-0.3},{"t":0.102,"h":0.3,"l":-0.28},{"t":0.1035,"h":0.28,"l":-0.25},{"t":0.105,"h":0.3,"l":-0.3},{"t":0.1065,"h":0.25,"l":-0.22},{"t":0.108,"h":0.3,"l":-0.28},{"t":0.1095,"h":0.28,"l":-0.25},{"t":0.111,"h":0.25,"l":-0.25},{"t":0.1125,"h":0.3,"l":-0.28},{"t":0.114,"h":0.35,"l":-0.3},{"t":0.1155,"h":0.3,"l":-0.3},{"t":0.117,"h":0.25,"l":-0.25},{"t":0.1185,"h":0.3,"l":-0.28},{"t":0.12,"h":0.38,"l":-0.35},{"t":0.1215,"h":0.35,"l":-0.32},{"t":0.123,"h":0.3,"l":-0.3},{"t":0.1245,"h":0.22,"l":-0.2},{"t":0.126,"h":0.2,"l":-0.18},{"t":0.1275,"h":0.25,"l":-0.22},{"t":0.129,"h":0.3,"l":-0.28},{"t":0.1305,"h":0.32,"l":-0.3},{"t":0.132,"h":0.28,"l":-0.25},{"t":0.1335,"h":0.35,"l":-0.3},{"t":0.135,"h":0.3,"l":-0.28},{"t":0.1365,"h":0.33,"l":-0.3},{"t":0.138,"h":0.38,"l":-0.32},{"t":0.1395,"h":0.3,"l":-0.28},{"t":0.141,"h":0.35,"l":-0.32},{"t":0.1425,"h":0.4,"l":-0.35},{"t":0.144,"h":0.32,"l":-0.3},{"t":0.1455,"h":0.35,"l":-0.3},{"t":0.147,"h":0.3,"l":-0.28},{"t":0.1485,"h":0.33,"l":-0.3},{"t":0.15,"h":0.3,"l":-0.28},{"t":0.1515,"h":0.28,"l":-0.25},{"t":0.153,"h":0.32,"l":-0.3},{"t":0.1545,"h":0.28,"l":-0.25},{"t":0.156,"h":0.25,"l":-0.22},{"t":0.1575,"h":0.3,"l":-0.25},{"t":0.159,"h":0.25,"l":-0.22},{"t":0.1605,"h":0.22,"l":-0.2},{"t":0.162,"h":0.2,"l":-0.18},{"t":0.1635,"h":0.22,"l":-0.2},{"t":0.165,"h":0.2,"l":-0.18},{"t":0.1665,"h":0.18,"l":-0.15}],
"s6":[{"t":0,"h":0.25,"l":-0.2},{"t":0.0015,"h":0.42,"l":-0.3},{"t":0.003,"h":0.25,"l":-0.2},{"t":0.0045,"h":0.42,"l":-0.28},{"t":0.006,"h":0.25,"l":-0.2},{"t":0.0075,"h":0.22,"l":-0.18},{"t":0.009,"h":0.2,"l":-0.17},{"t":0.0105,"h":0.25,"l":-0.2},{"t":0.012,"h":0.38,"l":-0.3},{"t":0.0135,"h":0.25,"l":-0.22},{"t":0.015,"h":0.4,"l":-0.3},{"t":0.0165,"h":0.22,"l":-0.18},{"t":0.018,"h":0.2,"l":-0.17},{"t":0.0195,"h":0.28,"l":-0.25},{"t":0.021,"h":0.47,"l":-0.4},{"t":0.0225,"h":0.3,"l":-0.25},{"t":0.024,"h":0.22,"l":-0.18},{"t":0.0255,"h":0.2,"l":-0.17},{"t":0.027,"h":0.35,"l":-0.28},{"t":0.0285,"h":0.22,"l":-0.2},{"t":0.03,"h":0.2,"l":-0.18},{"t":0.0315,"h":0.22,"l":-0.2},{"t":0.033,"h":0.2,"l":-0.17},{"t":0.0345,"h":0.22,"l":-0.18},{"t":0.036,"h":0.28,"l":-0.22},{"t":0.0375,"h":0.45,"l":-0.35},{"t":0.039,"h":0.6,"l":-0.4},{"t":0.0405,"h":0.35,"l":-0.28},{"t":0.042,"h":0.25,"l":-0.22},{"t":0.0435,"h":0.3,"l":-0.25},{"t":0.045,"h":0.35,"l":-0.28},{"t":0.0465,"h":0.25,"l":-0.22},{"t":0.048,"h":0.3,"l":-0.25},{"t":0.0495,"h":0.4,"l":-0.3},{"t":0.051,"h":0.35,"l":-0.28},{"t":0.0525,"h":0.25,"l":-0.22},{"t":0.054,"h":0.3,"l":-0.25},{"t":0.0555,"h":0.25,"l":-0.2},{"t":0.057,"h":0.22,"l":-0.18},{"t":0.0585,"h":0.25,"l":-0.2},{"t":0.06,"h":0.22,"l":-0.18},{"t":0.0615,"h":0.45,"l":-0.3},{"t":0.063,"h":0.55,"l":-0.35},{"t":0.0645,"h":0.3,"l":-0.25},{"t":0.066,"h":0.25,"l":-0.22},{"t":0.0675,"h":0.55,"l":-0.4},{"t":0.069,"h":0.35,"l":-0.3},{"t":0.0705,"h":0.25,"l":-0.22},{"t":0.072,"h":0.35,"l":-0.28},{"t":0.0735,"h":0.47,"l":-0.35},{"t":0.075,"h":0.3,"l":-0.25},{"t":0.0765,"h":0.35,"l":-0.3},{"t":0.078,"h":0.73,"l":-0.45},{"t":0.0795,"h":0.4,"l":-0.35},{"t":0.081,"h":0.73,"l":-0.5},{"t":0.0825,"h":0.5,"l":-0.6},{"t":0.084,"h":0.6,"l":-0.76},{"t":0.0855,"h":0.45,"l":-0.5},{"t":0.087,"h":0.3,"l":-0.35},{"t":0.0885,"h":0.28,"l":-0.25},{"t":0.09,"h":0.35,"l":-0.3},{"t":0.0915,"h":0.55,"l":-0.4},{"t":0.093,"h":0.3,"l":-0.28},{"t":0.0945,"h":0.3,"l":-0.25},{"t":0.096,"h":0.55,"l":-0.4},{"t":0.0975,"h":0.3,"l":-0.28},{"t":0.099,"h":0.4,"l":-0.35},{"t":0.1005,"h":0.5,"l":-0.38},{"t":0.102,"h":0.25,"l":-0.22},{"t":0.1035,"h":0.22,"l":-0.2},{"t":0.105,"h":0.3,"l":-0.25},{"t":0.1065,"h":0.47,"l":-0.35},{"t":0.108,"h":0.3,"l":-0.28},{"t":0.1095,"h":0.45,"l":-0.35},{"t":0.111,"h":0.7,"l":-0.45},{"t":0.1125,"h":0.35,"l":-0.3},{"t":0.114,"h":0.4,"l":-0.35},{"t":0.1155,"h":0.68,"l":-0.5},{"t":0.117,"h":0.35,"l":-0.3},{"t":0.1185,"h":0.62,"l":-0.45},{"t":0.12,"h":0.35,"l":-0.3},{"t":0.1215,"h":0.91,"l":-0.84},{"t":0.123,"h":0.45,"l":-0.4},{"t":0.1245,"h":0.6,"l":-0.5},{"t":0.126,"h":1,"l":-0.6},{"t":0.1275,"h":0.4,"l":-0.35},{"t":0.129,"h":0.73,"l":-0.55},{"t":0.1305,"h":0.35,"l":-0.3},{"t":0.132,"h":0.73,"l":-0.55},{"t":0.1335,"h":0.35,"l":-0.3},{"t":0.135,"h":0.6,"l":-0.45},{"t":0.1365,"h":0.55,"l":-0.5},{"t":0.138,"h":0.88,"l":-0.6},{"t":0.1395,"h":0.35,"l":-0.3},{"t":0.141,"h":0.5,"l":-0.4},{"t":0.1425,"h":0.68,"l":-0.5},{"t":0.144,"h":0.35,"l":-0.3},{"t":0.1455,"h":0.68,"l":-0.5},{"t":0.147,"h":0.35,"l":-0.3},{"t":0.1485,"h":0.55,"l":-0.45},{"t":0.15,"h":0.6,"l":-0.5},{"t":0.1515,"h":0.3,"l":-0.28},{"t":0.153,"h":0.5,"l":-0.4},{"t":0.1545,"h":0.65,"l":-0.5},{"t":0.156,"h":0.3,"l":-0.28},{"t":0.1575,"h":0.62,"l":-0.45},{"t":0.159,"h":0.35,"l":-0.3},{"t":0.1605,"h":0.45,"l":-0.35},{"t":0.162,"h":0.55,"l":-0.45},{"t":0.1635,"h":0.3,"l":-0.28},{"t":0.165,"h":0.47,"l":-0.4},{"t":0.1665,"h":0.3,"l":-0.25}]
},
"bounds":"flush",
"spacing":32.3,
"vconcat":[
{"width":608,"height":38.3,"data":{"name":"s0"},
"title":{"text":"Axial vibration signal","fontSize":25,"fontWeight":"normal","color":"#000","font":"Liberation Sans","offset":-18,"baseline":"alphabetic","anchor":"middle","frame":"group"},
"transform":[{"fold":["h","l"],"as":["k","v"]}],
"layer":[
{"mark":{"type":"line","clip":true,"strokeWidth":1.1,"color":"#0072BD"},
"encoding":{"x":{"field":"t","type":"quantitative","scale":{"domain":[0,0.18],"nice":false,"zero":false},"axis":{"orient":"bottom","values":[0,0.02,0.04,0.06,0.08,0.1,0.12,0.14,0.16,0.18],"format":"~g","labelPadding":12,"title":null}},
"y":{"field":"v","type":"quantitative","scale":{"domain":[-2.6,4.7],"nice":false,"zero":false},"axis":{"orient":"left","values":[-2,0,2,4],"format":"~g","labelPadding":7.5,"title":null}}}},
{"mark":{"type":"line","opacity":0},
"encoding":{"x":{"field":"t","type":"quantitative","axis":{"orient":"top","values":[0,0.02,0.04,0.06,0.08,0.1,0.12,0.14,0.16,0.18],"labels":false,"title":null}},
"y":{"field":"v","type":"quantitative","axis":{"orient":"right","values":[-2,0,2,4],"labels":false,"title":null}}}}
],
"resolve":{"axis":{"x":"independent","y":"independent"}}},
{"width":608,"height":40,"data":{"name":"s1"},
"layer":[
{"mark":{"type":"line","clip":true,"strokeWidth":1,"color":"#0072BD","interpolate":"monotone"},
"encoding":{"x":{"field":"t","type":"quantitative","scale":{"domain":[0,0.18],"nice":false,"zero":false},"axis":{"orient":"bottom","values":[0,0.02,0.04,0.06,0.08,0.1,0.12,0.14,0.16,0.18],"format":"~g","labelPadding":12,"title":null}},
"y":{"field":"v","type":"quantitative","scale":{"domain":[-0.31,0.28],"nice":false,"zero":false},"axis":{"orient":"left","values":[-0.2,0,0.2],"format":"~g","labelPadding":7.5,"title":"IMF1"}}}},
{"mark":{"type":"line","opacity":0},
"encoding":{"x":{"field":"t","type":"quantitative","axis":{"orient":"top","values":[0,0.02,0.04,0.06,0.08,0.1,0.12,0.14,0.16,0.18],"labels":false,"title":null}},
"y":{"field":"v","type":"quantitative","axis":{"orient":"right","values":[-0.2,0,0.2],"labels":false,"title":null}}}}
],
"resolve":{"axis":{"x":"independent","y":"independent"}}},
{"width":608,"height":38,"data":{"name":"s2"},
"transform":[{"fold":["h","l"],"as":["k","v"]}],
"layer":[
{"mark":{"type":"line","clip":true,"strokeWidth":1.2,"color":"#0072BD"},
"encoding":{"x":{"field":"t","type":"quantitative","scale":{"domain":[0,0.18],"nice":false,"zero":false},"axis":{"orient":"bottom","values":[0,0.02,0.04,0.06,0.08,0.1,0.12,0.14,0.16,0.18],"format":"~g","labelPadding":12,"title":null}},
"y":{"field":"v","type":"quantitative","scale":{"domain":[-1,1.1],"nice":false,"zero":false},"axis":{"orient":"left","values":[-1,0,1],"format":"~g","labelPadding":7.5,"title":"IMF2"}}}},
{"mark":{"type":"line","opacity":0},
"encoding":{"x":{"field":"t","type":"quantitative","axis":{"orient":"top","values":[0,0.02,0.04,0.06,0.08,0.1,0.12,0.14,0.16,0.18],"labels":false,"title":null}},
"y":{"field":"v","type":"quantitative","axis":{"orient":"right","values":[-1,0,1],"labels":false,"title":null}}}}
],
"resolve":{"axis":{"x":"independent","y":"independent"}}},
{"width":608,"height":37.7,"data":{"name":"s3"},
"transform":[{"fold":["h","l"],"as":["k","v"]}],
"layer":[
{"mark":{"type":"line","clip":true,"strokeWidth":1.2,"color":"#0072BD"},
"encoding":{"x":{"field":"t","type":"quantitative","scale":{"domain":[0,0.18],"nice":false,"zero":false},"axis":{"orient":"bottom","values":[0,0.02,0.04,0.06,0.08,0.1,0.12,0.14,0.16,0.18],"format":"~g","labelPadding":12,"title":null}},
"y":{"field":"v","type":"quantitative","scale":{"domain":[-0.31,0.35],"nice":false,"zero":false},"axis":{"orient":"left","values":[-0.2,0,0.2],"format":"~g","labelPadding":7.5,"title":"IMF3"}}}},
{"mark":{"type":"line","opacity":0},
"encoding":{"x":{"field":"t","type":"quantitative","axis":{"orient":"top","values":[0,0.02,0.04,0.06,0.08,0.1,0.12,0.14,0.16,0.18],"labels":false,"title":null}},
"y":{"field":"v","type":"quantitative","axis":{"orient":"right","values":[-0.2,0,0.2],"labels":false,"title":null}}}}
],
"resolve":{"axis":{"x":"independent","y":"independent"}}},
{"width":608,"height":39.3,"data":{"name":"s4"},
"layer":[
{"mark":{"type":"area","clip":true,"color":"#1f6fb4"},
"encoding":{"x":{"field":"t","type":"quantitative","scale":{"domain":[0,0.18],"nice":false,"zero":false},"axis":{"orient":"bottom","values":[0,0.02,0.04,0.06,0.08,0.1,0.12,0.14,0.16,0.18],"format":"~g","labelPadding":12,"title":null}},
"y":{"field":"h","type":"quantitative","scale":{"domain":[-0.59,0.68],"nice":false,"zero":false},"axis":{"orient":"left","values":[-0.5,0,0.5],"format":"~g","labelPadding":7.5,"title":"IMF4"}},
"y2":{"field":"l"}}},
{"mark":{"type":"line","opacity":0},
"encoding":{"x":{"field":"t","type":"quantitative","axis":{"orient":"top","values":[0,0.02,0.04,0.06,0.08,0.1,0.12,0.14,0.16,0.18],"labels":false,"title":null}},
"y":{"field":"h","type":"quantitative","axis":{"orient":"right","values":[-0.5,0,0.5],"labels":false,"title":null}}}}
],
"resolve":{"axis":{"x":"independent","y":"independent"}}},
{"width":608,"height":38.3,"data":{"name":"s5"},
"layer":[
{"mark":{"type":"area","clip":true,"color":"#1f6fb4"},
"encoding":{"x":{"field":"t","type":"quantitative","scale":{"domain":[0,0.18],"nice":false,"zero":false},"axis":{"orient":"bottom","values":[0,0.02,0.04,0.06,0.08,0.1,0.12,0.14,0.16,0.18],"format":"~g","labelPadding":12,"title":null}},
"y":{"field":"h","type":"quantitative","scale":{"domain":[-0.5,0.65],"nice":false,"zero":false},"axis":{"orient":"left","values":[-0.5,0,0.5],"format":"~g","labelPadding":7.5,"title":"IMF5"}},
"y2":{"field":"l"}}},
{"mark":{"type":"line","opacity":0},
"encoding":{"x":{"field":"t","type":"quantitative","axis":{"orient":"top","values":[0,0.02,0.04,0.06,0.08,0.1,0.12,0.14,0.16,0.18],"labels":false,"title":null}},
"y":{"field":"h","type":"quantitative","axis":{"orient":"right","values":[-0.5,0,0.5],"labels":false,"title":null}}}}
],
"resolve":{"axis":{"x":"independent","y":"independent"}}},
{"width":608,"height":39,"data":{"name":"s6"},
"layer":[
{"mark":{"type":"area","clip":true,"color":"#1f6fb4"},
"encoding":{"x":{"field":"t","type":"quantitative","scale":{"domain":[0,0.18],"nice":false,"zero":false},"axis":{"orient":"bottom","values":[0,0.02,0.04,0.06,0.08,0.1,0.12,0.14,0.16,0.18],"format":"~g","labelPadding":12,"title":"time","titleFontSize":24,"titleX":264.3,"titleY":48,"titleAlign":"left","titleBaseline":"alphabetic"}},
"y":{"field":"h","type":"quantitative","scale":{"domain":[-1,1.1],"nice":false,"zero":false},"axis":{"orient":"left","values":[-1,0,1],"format":"~g","labelPadding":7.5,"title":"IMF6"}},
"y2":{"field":"l"}}},
{"mark":{"type":"line","opacity":0},
"encoding":{"x":{"field":"t","type":"quantitative","axis":{"orient":"top","values":[0,0.02,0.04,0.06,0.08,0.1,0.12,0.14,0.16,0.18],"labels":false,"title":"t/s","titleFontSize":24,"titleFontStyle":"italic","titleX":316.3,"titleY":87,"titleAlign":"left","titleBaseline":"alphabetic"}},
"y":{"field":"h","type":"quantitative","axis":{"orient":"right","values":[-1,0,1],"labels":false,"title":null}}}}
],
"resolve":{"axis":{"x":"independent","y":"independent"}}}
]
}
